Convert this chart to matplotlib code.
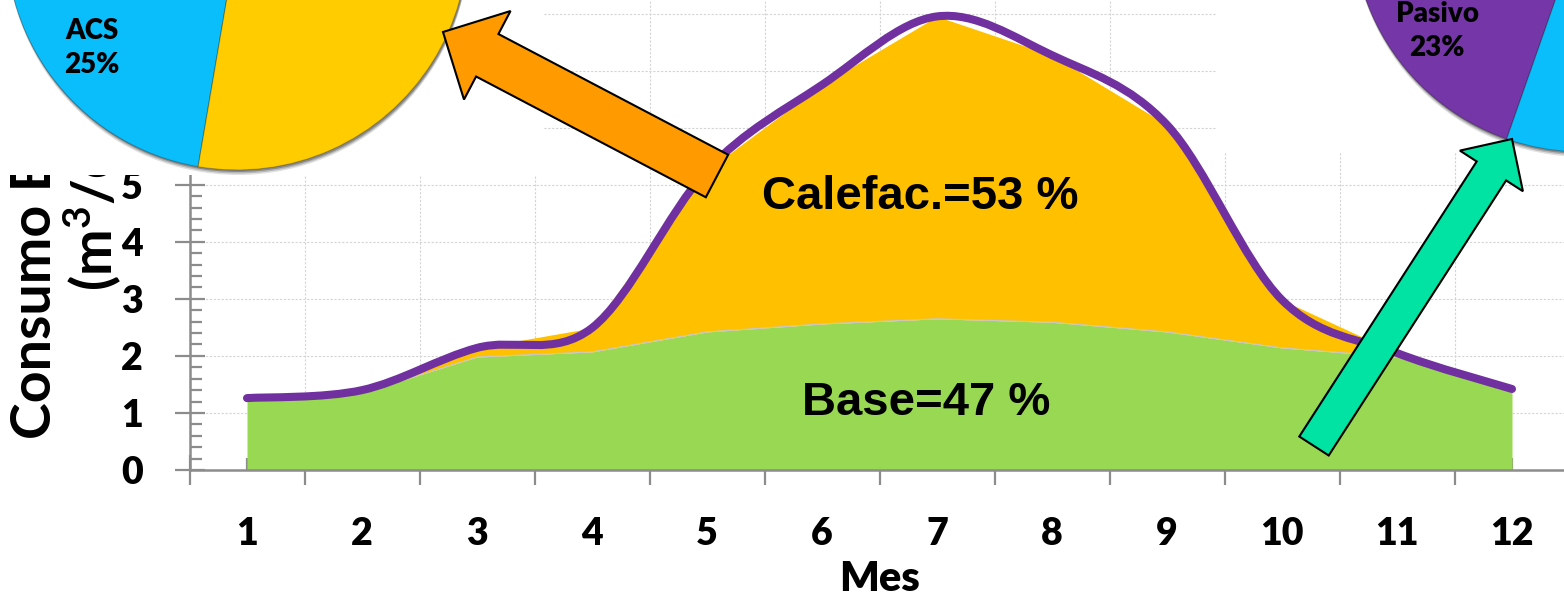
import numpy as np
import matplotlib
matplotlib.use('Agg')
import matplotlib.pyplot as plt
from matplotlib.path import Path
from matplotlib.patches import PathPatch, Rectangle, Circle, FancyArrow
from matplotlib.ticker import MultipleLocator

plt.rcParams['mathtext.fontset'] = 'custom'
plt.rcParams['mathtext.rm'] = 'Lato:bold'
plt.rcParams['mathtext.bf'] = 'Lato:bold'

# monthly specific consumption (m3/day)
months = np.arange(1, 13)
base = np.array([1.23, 1.35, 1.98, 2.07, 2.42, 2.56, 2.65, 2.59, 2.42, 2.14, 1.98, 1.40])
calef = np.array([0.03, 0.05, 0.16, 0.42, 2.83, 4.19, 5.30, 4.68, 3.63, 0.84, 0.07, 0.02])
total = base + calef

# pie insets (only the visible slices are labelled)
pie_left_vals = [25, 75]
pie_left_label = 'ACS\n25%'
pie_right_vals = [23, 77]
pie_right_label = 'Pasivo\n23%'

GREEN = '#98D852'
ORANGE = '#FFC000'
PURPLE = '#7030A0'
AXCOL = '#8C8C8C'
TICKFONT = 'Lato'

W, H = 1564, 599
fig = plt.figure(figsize=(W / 100, H / 100), dpi=100)

# main axes: x 0.5..12.5 spans px 189.5..1569.5, y 0..9 spans px 470..-43.5
ax = fig.add_axes([189.5 / W, (H - 470) / H, 1380 / W, 513.5 / H])
ax.set_xlim(0.5, 12.5)
ax.set_ylim(0, 9)

ax.fill_between(months, 0, base, color=GREEN, lw=0, zorder=2)
ax.plot(months, base, color='#c8c8c8', lw=0.8, zorder=2.1)
ax.fill_between(months, base, total, color=ORANGE, lw=0, zorder=2)


def smooth_path(x, y):
    pts = np.column_stack([x, y])
    n = len(pts)
    verts = [pts[0]]
    codes = [Path.MOVETO]
    for i in range(n - 1):
        p0 = pts[i - 1] if i > 0 else pts[i]
        p1, p2 = pts[i], pts[i + 1]
        p3 = pts[i + 2] if i + 2 < n else pts[i + 1]
        verts += [p1 + (p2 - p0) / 6, p2 - (p3 - p1) / 6, p2]
        codes += [Path.CURVE4] * 3
    return Path(verts, codes)


ax.add_patch(PathPatch(smooth_path(months, total), fill=False, ec=PURPLE,
                       lw=5.8, capstyle='round', joinstyle='round', zorder=3))

# axes styling
for s in ['top', 'right']:
    ax.spines[s].set_visible(False)
for s in ['left', 'bottom']:
    ax.spines[s].set_color(AXCOL)
    ax.spines[s].set_linewidth(1.8)

ax.set_xticks(np.arange(0.5, 13, 1))
ax.set_xticklabels([])
ax.set_xticks(months, minor=True)
ax.set_xticklabels([str(m) for m in months], minor=True)
ax.yaxis.set_major_locator(MultipleLocator(1))
ax.yaxis.set_minor_locator(MultipleLocator(0.2))

ax.tick_params(axis='both', which='major', direction='inout', length=21.6,
               width=1.6, color=AXCOL)
ax.tick_params(axis='both', which='minor', direction='in', length=8.5,
               width=1.6, color=AXCOL)
ax.tick_params(axis='y', which='major', pad=23, labelsize=27)
ax.tick_params(axis='x', which='minor', pad=34, labelsize=27)
for lab in ax.get_xticklabels(minor=True) + ax.get_yticklabels():
    lab.set_fontfamily(TICKFONT)
    lab.set_fontweight('heavy')

ax.grid(True, which='major', color='#D4D4D4', lw=0.8, linestyle=(0, (2, 1.5)))
ax.set_axisbelow(True)

ax.set_ylabel('Consumo Específico\n(m$^{3}$/día)', fontsize=40, fontweight='bold',
              family=TICKFONT, linespacing=1.03)
ax.yaxis.set_label_coords(-0.048, 0.545)
ax.set_xlabel('Mes', fontsize=30, fontweight='heavy', family=TICKFONT)
ax.xaxis.set_label_coords(0.5, -0.175)

ax.text(6.85, 4.78, 'Calefac.=53 %', fontsize=34, fontweight='bold',
        family='Liberation Sans', ha='center', va='center', zorder=4)
ax.text(6.91, 1.17, 'Base=47 %', fontsize=34, fontweight='bold',
        family='Liberation Sans', ha='center', va='center', zorder=4)

# overlay in pixel units (y up) for the pie insets and the arrows
ov = fig.add_axes([0, 0, 1, 1], zorder=5)
ov.set_xlim(0, W)
ov.set_ylim(0, H)
ov.set_axis_off()
ov.patch.set_alpha(0)

ov.add_patch(Rectangle((0, H - 175), 543, 175, fc='white', ec='none', zorder=1))
ov.add_patch(Rectangle((1217, H - 153), W - 1217, 153, fc='white', ec='none', zorder=1))


def pie_inset(cx, cy, r, vals, colors, start):
    for k, a in [(5, 0.12), (3.5, 0.18), (2, 0.25)]:
        ov.add_patch(Circle((cx + 1, cy - k), r, fc='black', alpha=a, ec='none', zorder=2))
    wedges, _ = ov.pie(vals, colors=colors, startangle=start, radius=r,
                       center=(cx, cy), frame=True,
                       wedgeprops=dict(lw=0.8, ec=(0, 0, 0, 0.25)))
    for w in wedges:
        w.set_zorder(3)


pie_inset(237, H + 61, 231, pie_left_vals, ['#0ABEFB', '#FFCC00'], 170.3)
pie_inset(1583, H + 79, 231, pie_right_vals, ['#7537A8', '#0ABEFB'], 167.9)
ov.set_xlim(0, W)
ov.set_ylim(0, H)
ov.set_aspect('auto')

ov.text(92, H - 48, pie_left_label, fontsize=20, fontweight='heavy', family=TICKFONT,
        ha='center', va='center', linespacing=1.4, zorder=4)
ov.text(1437, H - 31, pie_right_label, fontsize=20, fontweight='heavy', family=TICKFONT,
        ha='center', va='center', linespacing=1.4, zorder=4)

ov.add_patch(FancyArrow(717, H - 176, -274, 144, width=48, head_width=100,
                        head_length=50, length_includes_head=True,
                        fc='#FF9B00', ec='black', lw=1.5, zorder=6))
ov.add_patch(FancyArrow(1314, H - 446, 198, 307, width=35, head_width=75,
                        head_length=38, length_includes_head=True,
                        fc='#00E3A2', ec='black', lw=1.5, zorder=6))

fig.savefig('out.png', dpi=100, facecolor='white')
